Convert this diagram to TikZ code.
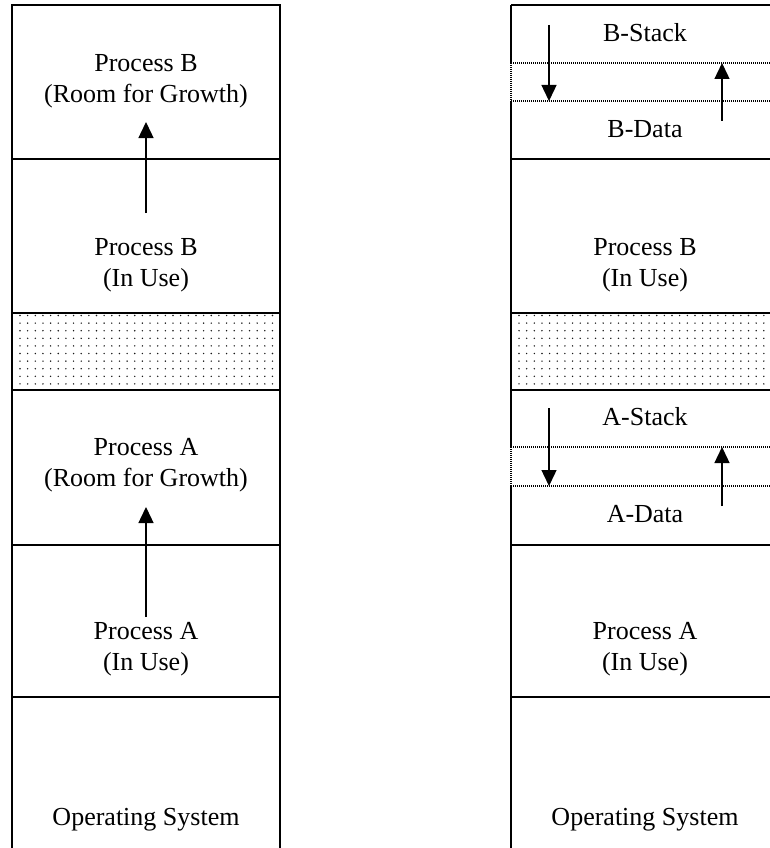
\documentclass[tikz,border=0pt]{standalone}
\usepackage{fontspec}
\setmainfont{Liberation Serif}
\usetikzlibrary{arrows.meta}

\tikzset{
  wall/.style={line width=2.2pt},
  boundary/.style={line width=1.2pt, dash pattern=on 1pt off 1pt},
  growth/.style={line width=1.4pt, -{Triangle[length=16pt,width=15pt]}},
  label/.style={font=\fontsize{26}{31}\selectfont, align=center, inner sep=0pt},
  stipple/.style={fill=black!90}
}

\begin{document}
\begin{tikzpicture}[x=1pt,y=-1pt]
  \clip (0,0) rectangle (770,848);
  \fill[white] (0,0) rectangle (770,848);

  % stippled free space between the two processes
  \foreach \xo in {12,511}{
    \foreach \i in {0,...,34}{
      \foreach \j in {0,...,9}{
        \fill[stipple] (\xo+8+7.65*\i, 315.5+7.6*\j) circle (0.8pt);
      }
    }
  }
  \fill[white] (280,300) rectangle (511,400);

  % left memory column
  \draw[wall] (12,870) -- (12,5) -- (280,5) -- (280,870);
  \foreach \yy in {159,313,390,545,697}{
    \draw[wall] (12,\yy) -- (280,\yy);
  }

  % right memory column
  \draw[wall] (511,5) -- (790,5);
  \draw[wall] (790,5) -- (790,870);
  \draw[wall] (511,5) -- (511,63);
  \draw[boundary] (511,63) -- (511,101);
  \draw[wall] (511,101) -- (511,447);
  \draw[boundary] (511,447) -- (511,486);
  \draw[wall] (511,486) -- (511,870);
  \foreach \yy in {159,313,390,545,697}{
    \draw[wall] (511,\yy) -- (790,\yy);
  }
  \foreach \yy in {63,101,447,486}{
    \draw[boundary] (511,\yy) -- (790,\yy);
  }

  % labels, left column
  \node[label] (bgrow) at (146,81) {Process B\\(Room for Growth)};
  \node[label] (buse)  at (146,265) {Process B\\(In Use)};
  \node[label] (agrow) at (146,465.5) {Process A\\(Room for Growth)};
  \node[label] (ause)  at (146,649.5) {Process A\\(In Use)};
  \node[label, anchor=base] (osl) at (146,825) {Operating System};

  % labels, right column
  \node[label, anchor=base] (bstack) at (645,42) {B-Stack};
  \node[label, anchor=base] (bdata)  at (645,138) {B-Data};
  \node[label] (buser) at (645,265) {Process B\\(In Use)};
  \node[label, anchor=base] (astack) at (645,425) {A-Stack};
  \node[label, anchor=base] (adata)  at (645,522) {A-Data};
  \node[label] (auser) at (645,649.5) {Process A\\(In Use)};
  \node[label, anchor=base] (osr) at (645,825) {Operating System};

  % growth arrows
  \coordinate (bfrom) at (146,213);
  \coordinate (bto)   at (146,122);
  \coordinate (afrom) at (146,617);
  \coordinate (ato)   at (146,507);
  \draw[growth] (bfrom) -- (bto);
  \draw[growth] (afrom) -- (ato);

  \coordinate (bsfrom) at (549,25);
  \coordinate (bsto)   at (549,101);
  \coordinate (bdfrom) at (722,121);
  \coordinate (bdto)   at (722,63);
  \coordinate (asfrom) at (549,408);
  \coordinate (asto)   at (549,486);
  \coordinate (adfrom) at (722,506);
  \coordinate (adto)   at (722,447);
  \draw[growth] (bsfrom) -- (bsto);
  \draw[growth] (bdfrom) -- (bdto);
  \draw[growth] (asfrom) -- (asto);
  \draw[growth] (adfrom) -- (adto);
\end{tikzpicture}
\end{document}
